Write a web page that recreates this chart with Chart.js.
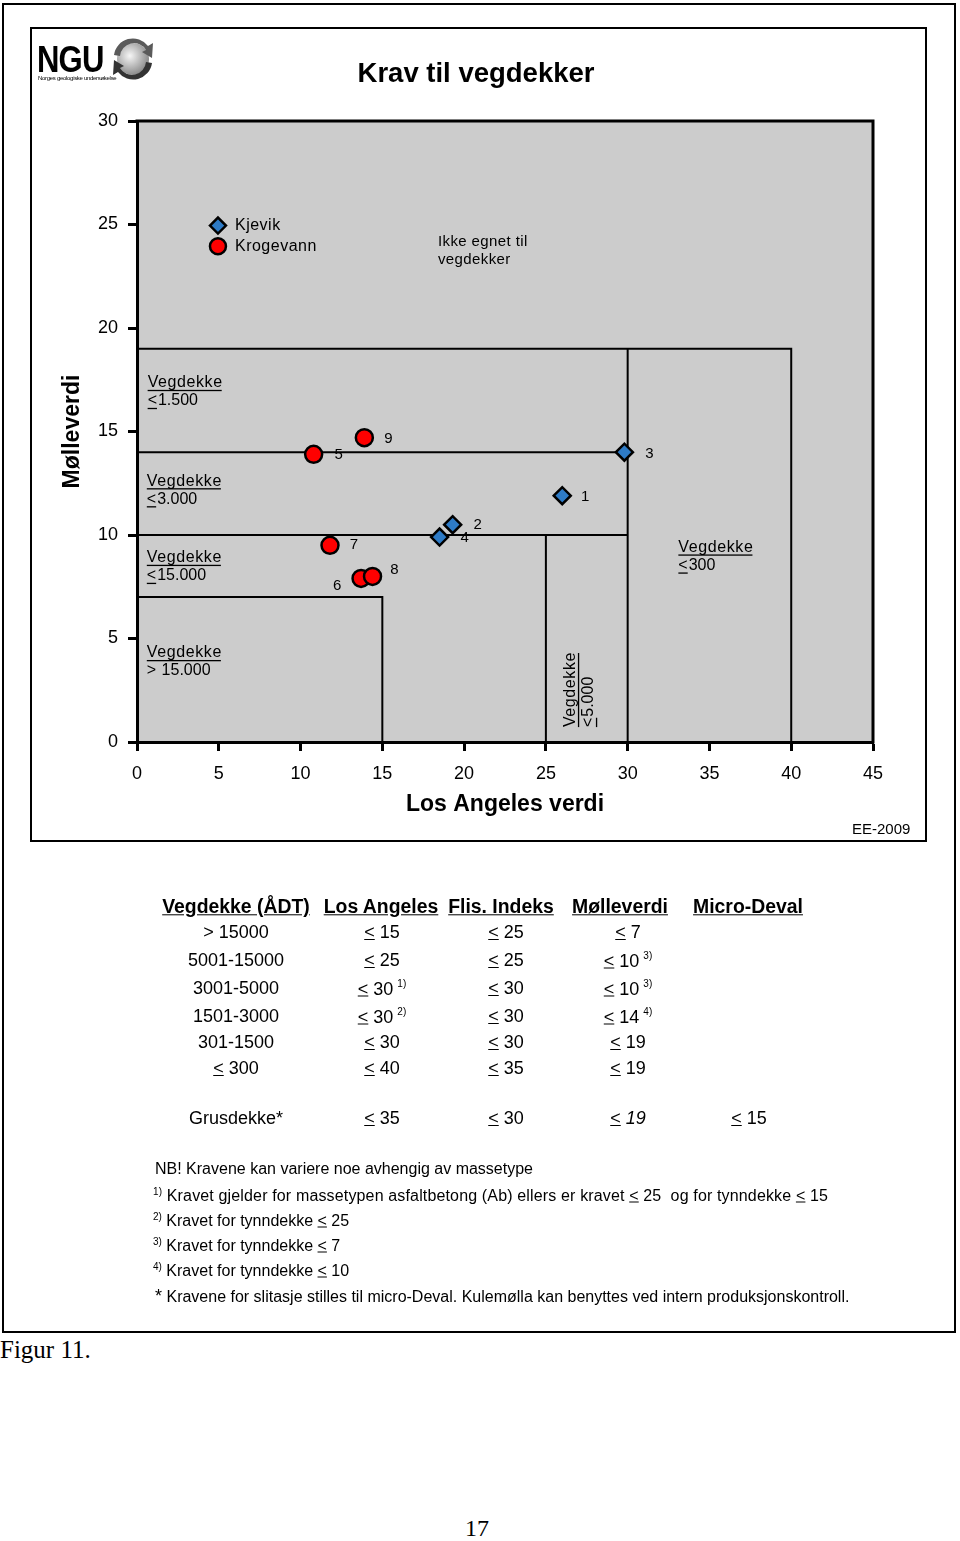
<!DOCTYPE html>
<html>
<head>
<meta charset="utf-8">
<script src="https://cdn.jsdelivr.net/npm/chart.js@4.4.0/dist/chart.umd.min.js"></script>
<style>
  body { margin: 0; background: #fff; width: 960px; height: 1541px; position: relative; overflow: hidden;
         font-family: "Liberation Sans", Arial, sans-serif; color: #000; }
  .t { position: absolute; white-space: nowrap; line-height: 1; transform: translateY(-50%); }
  .c { position: absolute; white-space: nowrap; line-height: 1; transform: translate(-50%, -50%); }
  .box { position: absolute; box-sizing: border-box; border: 2px solid #000; }
  sup { font-size: 10px; vertical-align: 8px; margin-left: 4px; }
</style>
</head>
<body>
<canvas id="chart" width="960" height="860" style="position:absolute;left:0;top:0"></canvas>
<div class="box" style="left:2px;top:3px;width:954px;height:1330px"></div>
<div class="box" style="left:30px;top:27px;width:897px;height:815px"></div>

<!-- logo -->
<div class="t" style="left:37px;top:59px;font-size:37px;font-weight:bold;letter-spacing:-1px;transform:translateY(-50%) scaleX(0.84);transform-origin:left center">NGU</div>
<div class="t" style="left:38px;top:78px;font-size:6px;letter-spacing:-0.3px">Norges geologiske undersøkelse</div>
<svg style="position:absolute;left:111px;top:35px" width="44" height="46" viewBox="0 0 44 46">
  <defs>
    <radialGradient id="g" cx="40%" cy="40%" r="60%">
      <stop offset="0" stop-color="#f6f6f6"/><stop offset="1" stop-color="#8c8c8c"/>
    </radialGradient>
  </defs>
  <circle cx="22" cy="24" r="16" fill="url(#g)"/>
  <path d="M3 20 A19 19 0 0 1 37 11 L42 8 L41 23 L31 17 L35 15 A14 14 0 0 0 9 21 Z" fill="#5a5a5a"/>
  <path d="M41 28 A19 19 0 0 1 7 37 L2 40 L3 25 L13 31 L9 33 A14 14 0 0 0 35 27 Z" fill="#333"/>
</svg>

<div class="c" style="left:476px;top:73px;font-size:27.5px;font-weight:bold">Krav til vegdekker</div>
<div class="t" style="left:852px;top:828px;font-size:15px">EE-2009</div>

<div id="table"></div>

<div class="t" style="left:0px;top:1349px;font-family:'Liberation Serif','Times New Roman',serif;font-size:25px">Figur 11.</div>
<div class="c" style="left:477px;top:1528px;font-family:'Liberation Serif','Times New Roman',serif;font-size:24px">17</div>

<script>
// Kjevik samples (blue diamonds)
const kjevikLA = [26.0, 19.3, 29.8, 18.5];
const kjevikMV = [11.9, 10.5, 14.0, 9.9];
const kjevikIds = ['1', '2', '3', '4'];

// Krogevann samples (red circles)
const krogevannLA = [10.8, 13.7, 11.8, 14.4, 13.9];
const krogevannMV = [13.9, 7.9, 9.5, 8.0, 14.7];
const krogevannIds = ['5', '6', '7', '8', '9'];

const xTicks = [0, 5, 10, 15, 20, 25, 30, 35, 40, 45];
const yTicks = [0, 5, 10, 15, 20, 25, 30];

// requirement limits, corner points as [Los Angeles, Mølleverdi]
const limitLines = [
  [[0, 19], [40, 19], [40, 0]],
  [[0, 14], [30, 14]],
  [[30, 19], [30, 0]],
  [[0, 10], [30, 10]],
  [[25, 10], [25, 0]],
  [[0, 7], [15, 7], [15, 0]]
];

// table under the chart ('≤' is written as underlined <, ^ marks a footnote)
const tableHead = ['Vegdekke (ÅDT)', 'Los Angeles', 'Flis. Indeks', 'Mølleverdi', 'Micro-Deval'];
const tableRows = [
  ['> 15000', '≤ 15', '≤ 25', '≤ 7'],
  ['5001-15000', '≤ 25', '≤ 25', '≤ 10^3)'],
  ['3001-5000', '≤ 30^1)', '≤ 30', '≤ 10^3)'],
  ['1501-3000', '≤ 30^2)', '≤ 30', '≤ 14^4)'],
  ['301-1500', '≤ 30', '≤ 30', '≤ 19'],
  ['≤ 300', '≤ 40', '≤ 35', '≤ 19']
];
const gravelRow = ['Grusdekke*', '≤ 35', '≤ 30', '≤ <i>19</i>', '≤ 15'];
const footnotes = [
  ['', 'NB! Kravene kan variere noe avhengig av massetype'],
  ['1)', 'Kravet gjelder for massetypen asfaltbetong (Ab) ellers er kravet ≤ 25&nbsp; og for tynndekke ≤ 15'],
  ['2)', 'Kravet for tynndekke ≤ 25'],
  ['3)', 'Kravet for tynndekke ≤ 7'],
  ['4)', 'Kravet for tynndekke ≤ 10'],
  ['*', 'Kravene for slitasje stilles til micro-Deval. Kulemølla kan benyttes ved intern produksjonskontroll.']
];

const fmt = s => s.replace(/≤/g, '<u>&lt;</u>').replace(/\^(\S+)/g, '<sup>$1</sup>');

// build the table
const tbl = document.getElementById('table');
const headX = [236, 381, 501, 620, 748];
const colX = [236, 382, 506, 628, 749];
const rowY = [932, 960, 988, 1016, 1042, 1068];
tableHead.forEach((h, i) => {
  tbl.insertAdjacentHTML('beforeend',
    `<div class="c" style="left:${headX[i]}px;top:907px;font-size:19.4px;font-weight:bold;text-decoration:underline">${h}</div>`);
});
tableRows.forEach((row, r) => {
  row.forEach((cell, i) => {
    tbl.insertAdjacentHTML('beforeend',
      `<div class="c" style="left:${colX[i]}px;top:${rowY[r]}px;font-size:18px">${fmt(cell)}</div>`);
  });
});
gravelRow.forEach((cell, i) => {
  tbl.insertAdjacentHTML('beforeend',
    `<div class="c" style="left:${colX[i]}px;top:1118px;font-size:18px">${fmt(cell)}</div>`);
});
const noteY = [1169, 1195, 1220, 1245, 1270, 1296];
footnotes.forEach(([mark, text], i) => {
  let lead = '';
  if (mark === '*') lead = '<span style="font-size:18px">*</span> ';
  else if (mark) lead = `<span style="font-size:10px;vertical-align:6px">${mark}</span> `;
  const ls = mark === '1)' ? 'letter-spacing:0.15px;' : '';
  tbl.insertAdjacentHTML('beforeend',
    `<div class="t" style="left:${mark && mark !== '*' ? 153 : 155}px;top:${noteY[i]}px;font-size:16px;${ls}">${lead}${fmt(text)}</div>`);
});

// chart
Chart.defaults.font.family = '"Liberation Sans", Arial, sans-serif';
Chart.defaults.color = '#000';

const toPoints = (xs, ys) => xs.map((x, i) => ({ x: x, y: ys[i] }));
const idOffsets = {
  '1': [23, 1], '2': [25, 0], '3': [25, 2], '4': [25, 1], '5': [25, 1],
  '6': [-24, 7], '7': [24, 0], '8': [22, -7], '9': [24, 1]
};

const zoneLabels = [
  { x: 0.65, y: 17.35, sign: '<', value: '1.500' },
  { x: 0.6, y: 12.6, sign: '<', value: '3.000' },
  { x: 0.6, y: 8.9, sign: '<', value: '15.000' },
  { x: 0.6, y: 4.3, sign: '> ', value: '15.000' },
  { x: 33.1, y: 9.4, sign: '<', value: '300' }
];

function zoneLabel(ctx, x, y, sign, value) {
  ctx.font = '16px "Liberation Sans", Arial';
  ctx.textAlign = 'left';
  ctx.textBaseline = 'middle';
  ctx.letterSpacing = '0.6px';
  ctx.fillText('Vegdekke', x, y);
  const w = ctx.measureText('Vegdekke').width;
  ctx.fillRect(x, y + 7, w - 1, 1.3);
  ctx.letterSpacing = '0px';
  const y2 = y + 18;
  ctx.fillText(sign, x, y2);
  const ws = ctx.measureText(sign).width;
  if (sign === '<') ctx.fillRect(x, y2 + 7, ws, 1.3);
  ctx.fillText(value, x + ws + 1, y2);
}

function marker(ctx, style, x, y, r, fill) {
  ctx.beginPath();
  if (style === 'rectRot') {
    ctx.moveTo(x - r, y); ctx.lineTo(x, y - r); ctx.lineTo(x + r, y); ctx.lineTo(x, y + r); ctx.closePath();
  } else {
    ctx.arc(x, y, r, 0, Math.PI * 2);
  }
  ctx.fillStyle = fill; ctx.fill();
  ctx.lineWidth = 2.5; ctx.strokeStyle = '#000'; ctx.stroke();
}

const plotDecor = {
  id: 'plotDecor',
  beforeDraw(chart) {
    const { ctx, chartArea: a } = chart;
    ctx.save();
    ctx.fillStyle = '#cccccc';
    ctx.fillRect(a.left, a.top, a.right - a.left, a.bottom - a.top);
    ctx.restore();
  },
  beforeDatasetsDraw(chart) {
    const { ctx, chartArea: a } = chart;
    ctx.save();
    ctx.strokeStyle = '#000';
    ctx.lineWidth = 3;
    ctx.beginPath();
    ctx.moveTo(a.left - 1.5, a.top);
    ctx.lineTo(a.right, a.top);
    ctx.lineTo(a.right, a.bottom + 1.5);
    ctx.stroke();
    ctx.restore();
  },
  afterDatasetsDraw(chart) {
    const { ctx } = chart;
    const sx = chart.scales.x, sy = chart.scales.y;
    const px = v => sx.getPixelForValue(v), py = v => sy.getPixelForValue(v);
    ctx.save();
    ctx.fillStyle = '#000';

    // sample numbers
    ctx.font = '15px "Liberation Sans", Arial';
    ctx.textAlign = 'center';
    ctx.textBaseline = 'middle';
    [kjevikIds, krogevannIds].forEach((ids, d) => {
      chart.getDatasetMeta(d).data.forEach((el, i) => {
        const o = idOffsets[ids[i]];
        ctx.fillText(ids[i], el.x + o[0], el.y + o[1]);
      });
    });

    // zone labels
    zoneLabels.forEach(z => zoneLabel(ctx, px(z.x), py(z.y), z.sign, z.value));
    ctx.save();
    ctx.translate(px(26.53), py(0.72));
    ctx.rotate(-Math.PI / 2);
    zoneLabel(ctx, 0, 0, '<', '5.000');
    ctx.restore();

    // legend
    const lx = px(4.95);
    marker(ctx, 'rectRot', lx, py(24.95), 8, '#2e7bc6');
    marker(ctx, 'circle', lx, py(23.95), 8, '#ff0000');
    ctx.fillStyle = '#000';
    ctx.font = '16px "Liberation Sans", Arial';
    ctx.textAlign = 'left';
    ctx.letterSpacing = '0.5px';
    ctx.fillText('Kjevik', lx + 17, py(24.95));
    ctx.fillText('Krogevann', lx + 17, py(23.95));

    ctx.font = '15px "Liberation Sans", Arial';
    ctx.letterSpacing = '0.4px';
    ctx.fillText('Ikke egnet til', px(18.4), py(24.15));
    ctx.fillText('vegdekker', px(18.4), py(24.15) + 18);
    ctx.restore();
  }
};

const datasets = [
  {
    label: 'Kjevik',
    data: toPoints(kjevikLA, kjevikMV),
    pointStyle: 'rectRot',
    pointRadius: 8.5,
    pointBackgroundColor: '#2e7bc6',
    pointBorderColor: '#000',
    pointBorderWidth: 2.5,
    showLine: false,
    order: 0
  },
  {
    label: 'Krogevann',
    data: toPoints(krogevannLA, krogevannMV),
    pointStyle: 'circle',
    pointRadius: 8.5,
    pointBackgroundColor: '#ff0000',
    pointBorderColor: '#000',
    pointBorderWidth: 2.5,
    showLine: false,
    order: 1
  }
].concat(limitLines.map(line => ({
  label: 'limit',
  data: line.map(([x, y]) => ({ x: x, y: y })),
  showLine: true,
  borderColor: '#000',
  borderWidth: 2,
  pointRadius: 0,
  fill: false,
  order: 2
})));

const chart = new Chart(document.getElementById('chart'), {
  type: 'scatter',
  data: { datasets: datasets },
  plugins: [plotDecor],
  options: {
    responsive: false,
    animation: false,
    devicePixelRatio: 1,
    events: [],
    layout: { padding: { left: 59, top: 121, right: 87, bottom: 42 } },
    plugins: { legend: { display: false }, tooltip: { enabled: false } },
    scales: {
      x: {
        type: 'linear',
        min: 0,
        max: 45,
        afterBuildTicks: s => { s.ticks = xTicks.map(v => ({ value: v })); },
        afterFit: s => { s.height = 76; },
        ticks: { font: { size: 18 }, color: '#000', padding: 12, maxRotation: 0, autoSkip: false },
        grid: { drawOnChartArea: false, tickLength: 9, tickWidth: 3, tickColor: '#000' },
        border: { color: '#000', width: 3 },
        title: { display: true, text: 'Los Angeles verdi', font: { size: 23, weight: 'bold' }, color: '#000', padding: 0 }
      },
      y: {
        type: 'linear',
        min: 0,
        max: 30,
        afterBuildTicks: s => { s.ticks = yTicks.map(v => ({ value: v })); },
        afterFit: s => { s.width = 78; },
        ticks: { font: { size: 18 }, color: '#000', padding: 10, autoSkip: false },
        grid: { drawOnChartArea: false, tickLength: 9, tickWidth: 3, tickColor: '#000' },
        border: { color: '#000', width: 3 },
        title: { display: true, text: 'Mølleverdi', font: { size: 23, weight: 'bold' }, color: '#000', padding: 0 }
      }
    }
  }
});
</script>
</body>
</html>
